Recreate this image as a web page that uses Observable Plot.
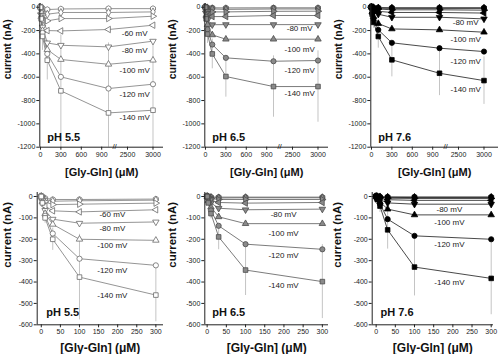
<!DOCTYPE html>
<html><head><meta charset="utf-8">
<script src="https://cdn.jsdelivr.net/npm/d3@7"></script>
<script src="https://cdn.jsdelivr.net/npm/@observablehq/plot@0.6"></script>
<style>
body{margin:0;background:#fff}
#root{position:relative;width:500px;height:354px;overflow:hidden;background:#fff}
#root svg{position:absolute}
</style>
</head><body><div id="root"></div>
<script>
// ---- data ----
const voltages = [-140, -120, -100, -80, -60, -40, -20, 0];
const concTop = [0, 10, 30, 100, 300, 1000, 3000];
const concBottom = [0, 3, 10, 30, 100, 300];

const currentTop55 = [
  [0, -100, -250, -454, -717, -906, -883],
  [0, -90, -220, -400, -597, -697, -660],
  [0, -80, -200, -363, -448, -489, -454],
  [0, -70, -170, -306, -326, -340, -291],
  [0, -50, -110, -200, -203, -191, -154],
  [0, -30, -65, -117, -97, -97, -77],
  [0, -15, -30, -60, -45, -45, -40],
  [0, -5, -10, -20, -15, -12, -12]];
const currentTop65 = [
  [0, -100, -230, -400, -594, -680, -680],
  [0, -85, -190, -320, -434, -463, -457],
  [0, -70, -150, -237, -274, -274, -274],
  [0, -55, -110, -150, -149, -149, -149],
  [0, -35, -60, -80, -80, -71, -71],
  [0, -18, -30, -40, -40, -35, -34],
  [0, -8, -12, -15, -18, -15, -15],
  [0, -2, -4, -5, -6, -5, -5]];
const currentTop76 = [
  [0, -60, -130, -251, -451, -566, -629],
  [0, -50, -100, -194, -305, -351, -380],
  [0, -40, -80, -140, -186, -194, -214],
  [0, -20, -40, -60, -86, -86, -100],
  [0, -12, -25, -35, -45, -45, -50],
  [0, -6, -12, -15, -22, -22, -25],
  [0, -3, -5, -8, -10, -10, -10],
  [0, -1, -2, -3, -4, -4, -4]];
const currentBottom55 = [
  [0, -30, -100, -200, -377, -461],
  [0, -28, -90, -173, -291, -322],
  [0, -25, -80, -130, -200, -205],
  [0, -20, -65, -106, -125, -119],
  [0, -15, -45, -67, -72, -62],
  [0, -10, -25, -38, -36, -31],
  [0, -6, -15, -22, -20, -17],
  [0, -3, -8, -14, -14, -12]];
const currentBottom65 = [
  [0, -30, -80, -189, -344, -398],
  [0, -25, -65, -137, -223, -247],
  [0, -20, -50, -95, -127, -127],
  [0, -12, -30, -55, -62, -59],
  [0, -8, -18, -28, -31, -28],
  [0, -4, -10, -14, -14, -14],
  [0, -2, -5, -7, -6, -6],
  [0, -1, -2, -3, -3, -3]];
const currentBottom76 = [
  [0, -15, -45, -156, -330, -383],
  [0, -12, -35, -106, -184, -200],
  [0, -8, -25, -59, -86, -86],
  [0, -5, -15, -30, -36, -36],
  [0, -3, -8, -15, -18, -18],
  [0, -2, -4, -8, -9, -9],
  [0, -1, -2, -4, -5, -5],
  [0, 0, -1, -2, -2, -2]];

// error (SD) of the -140 mV series
const sdTop55 = [0, 40, 120, 170, 480, 600, 600];
const sdTop65 = [0, 30, 80, 128, 177, 263, 306];
const sdTop76 = [0, 20, 50, 100, 146, 192, 204];
const sdBottom55 = [0, 10, 25, 52, 200, 125];
const sdBottom65 = [0, 10, 25, 60, 119, 173];
const sdBottom76 = [0, 10, 30, 90, 135, 170];

const labelsTop55 = [["-60 mV", -226], ["-80 mV", -374], ["-100 mV", -546], ["-120 mV", -749], ["-140 mV", -946]];
const labelsTop65 = [["-80 mV", -183], ["-100 mV", -363], ["-120 mV", -540], ["-140 mV", -740]];
const labelsTop76 = [["-80 mV", -134], ["-100 mV", -280], ["-120 mV", -466], ["-140 mV", -708]];
const labelsBottom55 = [["-60 mV", -86], ["-80 mV", -151], ["-100 mV", -229], ["-120 mV", -346], ["-140 mV", -463]];
const labelsBottom65 = [["-80 mV", -86], ["-100 mV", -175], ["-120 mV", -276], ["-140 mV", -416]];
const labelsBottom76 = [["-80 mV", -61], ["-100 mV", -120], ["-120 mV", -226], ["-140 mV", -401]];

const xTicksTop = [0, 300, 600, 900, 2500, 3000];
const xTicksBottom = [0, 50, 100, 150, 200, 250, 300];
const yTicksTop = [0, -200, -400, -600, -800, -1000, -1200];
const yTicksBottom = [0, -100, -200, -300, -400, -500, -600];
const pHLabels = ["pH 5.5", "pH 6.5", "pH 7.6"];
const xTitle = "[Gly-Gln] (\u03bcM)";
const yTitle = "current (nA)";

// ---- symbols ----
const s3 = Math.sqrt(3);
function tri(rot) {
  return {draw(ctx, size) {
    const y = -Math.sqrt(size / (s3 * 3));
    const pts = [[0, y * 2], [-s3 * y, -y], [s3 * y, -y]];
    pts.forEach(([px, py], i) => { const [a, b] = rot(px, py); if (i) ctx.lineTo(a, b); else ctx.moveTo(a, b); });
    ctx.closePath();
  }};
}
const symbols = {
  "-140": "square", "-120": "circle",
  "-100": tri((x, y) => [x, y]), "-80": tri((x, y) => [x, -y]),
  "-60": tri((x, y) => [y, x]), "-40": tri((x, y) => [-y, x]),
  "-20": "diamond", "0": "hexagon"
};
const radius = {"-140": 2.6, "-120": 2.6, "-100": 2.4, "-80": 2.4, "-60": 2.4, "-40": 2.4, "-20": 2.4, "0": 2.5};
const looks = [
  {fill: "#fff", stroke: "#6a6a6a", line: "#7a7a7a"},
  {fill: "#8a8a8a", stroke: "#4a4a4a", line: "#5a5a5a"},
  {fill: "#000", stroke: "#000", line: "#1a1a1a"}
];

function panel(cfg) {
  const rows = [];
  voltages.forEach((v, i) => cfg.conc.forEach((c, j) => rows.push({v, x: c, y: cfg.values[i][j]})));
  const err = cfg.conc.map((c, j) => ({x: c, y: cfg.values[0][j], sd: cfg.sd[j]})).filter(d => d.sd > 0);
  const look = looks[cfg.ph];
  const marks = [
    Plot.ruleX(err, {x: "x", y1: d => d.y - d.sd, y2: d => d.y + d.sd, stroke: "#c4c4c4", strokeWidth: 1, clip: true}),
    Plot.line(rows, {x: "x", y: "y", z: "v", stroke: look.line, strokeWidth: 0.8})
  ];
  voltages.slice().reverse().forEach(v => {
    marks.push(Plot.dot(rows.filter(r => r.v === v), {x: "x", y: "y", symbol: symbols[v], r: radius[v],
      fill: look.fill, stroke: look.stroke, strokeWidth: 0.8}));
  });
  marks.push(
    Plot.ruleX([cfg.xDomain[0]], {stroke: "#222", strokeWidth: 1}),
    Plot.ruleY([cfg.yDomain[0]], {stroke: "#222", strokeWidth: 1}),
    Plot.axisY({ticks: cfg.yTicks, tickSize: 3, tickPadding: 1.5, fontSize: 7, tickFormat: d => `${d}`, label: null}),
    Plot.axisX({ticks: cfg.xTicks, tickSize: 3, tickPadding: 1.5, fontSize: 7, tickFormat: d => `${d}`, label: null}),
    Plot.text(cfg.labels, {x: cfg.labelX, y: d => d[1], text: d => d[0], fontSize: 8, fill: "#222"}),
    Plot.text([pHLabels[cfg.ph]], {text: d => d, frameAnchor: "bottom-left", lineAnchor: "middle", dx: cfg.phDx, dy: cfg.phDy,
      textAnchor: "start", fontSize: 11, fontWeight: "bold", fill: "#111"}),
    Plot.text([yTitle], {text: d => d, frameAnchor: "left", lineAnchor: "middle", rotate: -90, dx: 7.3 - cfg.marginLeft, dy: cfg.yTitleDy,
      fontSize: cfg.titleSize, fontWeight: "bold", fill: "#111"}),
    Plot.text([xTitle], {text: d => d, frameAnchor: "bottom", lineAnchor: "middle", dy: cfg.xTitleDy, fontSize: cfg.titleSize + 0.5, fontWeight: "bold", fill: "#111"})
  );
  if (cfg.breakAt) marks.push(Plot.text(["//"], {x: cfg.breakAt, y: cfg.yDomain[0], text: d => d, dy: -1, fontSize: 8, fill: "#222"}));
  const x = cfg.xRange ? {type: "linear", domain: cfg.xDomain, range: cfg.xRange} : {type: "linear", domain: cfg.xDomain};
  const svg = Plot.plot({
    width: cfg.width, height: 177,
    marginLeft: cfg.marginLeft, marginRight: cfg.marginRight, marginTop: cfg.marginTop, marginBottom: cfg.marginBottom,
    x, y: {domain: cfg.yDomain},
    style: {fontFamily: "'Liberation Sans', Arial, sans-serif", background: "transparent", overflow: "visible", color: "#222"},
    marks
  });
  svg.style.left = cfg.left + "px";
  svg.style.top = cfg.top + "px";
  document.getElementById("root").appendChild(svg);
}

const topCommon = {
  conc: concTop, width: 165, marginLeft: 39.3, marginRight: 2, marginTop: 3, marginBottom: 30.3,
  xDomain: [-10, 1050, 2300, 3206], xRange: [39.3, 111.4, 116.8, 163], yDomain: [-1200, 32],
  xTicks: xTicksTop, yTicks: yTicksTop, labelX: 2640, phDx: 7.4, phDy: -10, yTitleDy: 4, xTitleDy: 25, titleSize: 10.5, breakAt: 1675, top: 0
};
panel({...topCommon, values: currentTop55, sd: sdTop55, labels: labelsTop55, ph: 0, left: 0});
panel({...topCommon, values: currentTop65, sd: sdTop65, labels: labelsTop65, ph: 1, left: 165});
panel({...topCommon, values: currentTop76, sd: sdTop76, labels: labelsTop76, ph: 2, left: 331, width: 169});

const botCommon = {
  conc: concBottom, marginTop: 15, marginBottom: 29.7, yDomain: [-600, 18.7],
  xTicks: xTicksBottom, yTicks: yTicksBottom, phDy: -12.3, yTitleDy: 9, xTitleDy: 23.7, titleSize: 11.5, top: 177
};
panel({...botCommon, values: currentBottom55, sd: sdBottom55, labels: labelsBottom55, labelX: 186, ph: 0, left: 0,
  width: 165, marginLeft: 36.7, marginRight: 2, xDomain: [-10.7, 320], phDx: 9});
panel({...botCommon, values: currentBottom65, sd: sdBottom65, labels: labelsBottom65, labelX: 199, ph: 1, left: 165,
  width: 165, marginLeft: 39.3, marginRight: 2, xDomain: [-6.1, 316], phDx: 7.4});
panel({...botCommon, values: currentBottom76, sd: sdBottom76, labels: labelsBottom76, labelX: 191, ph: 2, left: 330,
  width: 170, marginLeft: 41.7, marginRight: 7, xDomain: [-10.3, 306], phDx: 8.3});
</script></body></html>
